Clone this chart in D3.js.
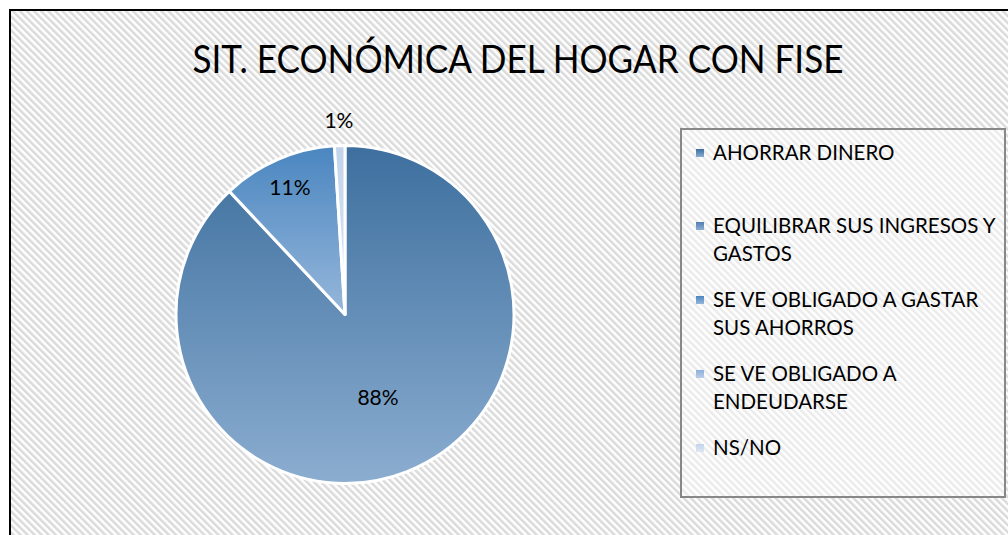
<!DOCTYPE html>
<html>
<head>
<meta charset="utf-8">
<script src="https://cdn.jsdelivr.net/npm/d3@7"></script>
<style>
  html, body { margin: 0; padding: 0; background: #fff; }
  svg { display: block; }
</style>
</head>
<body>
<div id="chart"></div>
<script>
// chart values
const title = "SIT. ECONÓMICA DEL HOGAR CON FISE";
const categories = [
  "AHORRAR DINERO",
  "EQUILIBRAR SUS INGRESOS Y GASTOS",
  "SE VE OBLIGADO A GASTAR SUS AHORROS",
  "SE VE OBLIGADO A ENDEUDARSE",
  "NS/NO"
];
const legendLines = [
  ["AHORRAR DINERO"],
  ["EQUILIBRAR SUS INGRESOS Y", "GASTOS"],
  ["SE VE OBLIGADO A GASTAR", "SUS AHORROS"],
  ["SE VE OBLIGADO A", "ENDEUDARSE"],
  ["NS/NO"]
];
const values = [88, 0, 11, 0, 1];
const colorsTop = ["#3d6f9e", "#4f7eb0", "#4a86c0", "#8cb0da", "#c2d4eb"];
const colorsBottom = ["#8badd0", "#8eafd3", "#96b7da", "#b9cde8", "#dde7f4"];

const width = 1008, height = 535;
const font = "Lato, 'Open Sans', sans-serif";

const svg = d3.select("#chart").append("svg")
  .attr("width", width)
  .attr("height", height);

const defs = svg.append("defs");

// diagonal hatch background
const pat = defs.append("pattern")
  .attr("id", "hatch")
  .attr("patternUnits", "userSpaceOnUse")
  .attr("width", 5)
  .attr("height", 5)
  .attr("patternTransform", "rotate(-45)");
pat.append("rect").attr("width", 5).attr("height", 5).attr("fill", "#fff");
pat.append("rect").attr("width", 2.5).attr("height", 5).attr("fill", "#dadada");

const grads = values.map((v, i) => {
  const g = defs.append("linearGradient")
    .attr("id", "grad" + i)
    .attr("x1", 0).attr("y1", 0).attr("x2", 0).attr("y2", 1);
  g.append("stop").attr("offset", "0%").attr("stop-color", colorsTop[i]);
  g.append("stop").attr("offset", "100%").attr("stop-color", colorsBottom[i]);
  return "url(#grad" + i + ")";
});

// chart area with border
svg.append("rect")
  .attr("x", 10).attr("y", 10)
  .attr("width", width + 20).attr("height", height + 20)
  .attr("fill", "url(#hatch)")
  .attr("stroke", "#000")
  .attr("stroke-width", 2);

// title
svg.append("text")
  .attr("x", 518)
  .attr("y", 73)
  .attr("text-anchor", "middle")
  .attr("textLength", 651)
  .attr("lengthAdjust", "spacingAndGlyphs")
  .style("font-family", font)
  .style("font-size", "38px")
  .attr("fill", "#000")
  .text(title);

// pie
const cx = 345, cy = 314.5, r = 169;
const total = d3.sum(values);

const pie = d3.pie().sort(null).value(d => d);
const arcs = pie(values);
const arc = d3.arc().innerRadius(0).outerRadius(r);

const g = svg.append("g").attr("transform", `translate(${cx},${cy})`);

g.selectAll("path.slice")
  .data(arcs.filter(d => d.value > 0))
  .join("path")
  .attr("class", "slice")
  .attr("d", arc)
  .attr("fill", d => grads[d.index])
  .attr("stroke", "#fff")
  .attr("stroke-width", 3)
  .attr("stroke-linejoin", "round");

function labelRadius(d) {
  const f = d.value / total;
  if (f > 0.5) return r * 0.53;
  if (f > 0.05) return r * 0.82;
  return r * 1.15;
}

g.selectAll("text.lbl")
  .data(arcs.filter(d => d.value > 0))
  .join("text")
  .attr("class", "lbl")
  .attr("transform", d => {
    const lr = labelRadius(d);
    const c = d3.arc().innerRadius(lr).outerRadius(lr).centroid(d);
    return `translate(${c[0]},${c[1]})`;
  })
  .attr("text-anchor", "middle")
  .attr("dy", "0.36em")
  .style("font-family", font)
  .style("font-size", "21px")
  .attr("fill", "#000")
  .text(d => Math.round(d.value / total * 100) + "%");

// legend
const lg = svg.append("g");
lg.append("rect")
  .attr("x", 681).attr("y", 129)
  .attr("width", 324).attr("height", 368)
  .attr("fill", "rgba(255,255,255,0.45)")
  .attr("stroke", "#888")
  .attr("stroke-width", 2);

// rows are not evenly spaced: wrapped entries push later rows down
const rowTops = [153, 226, 300, 374, 448];

categories.forEach((c, i) => {
  const y = rowTops[i];
  lg.append("rect")
    .attr("x", 696).attr("y", y - 4)
    .attr("width", 8).attr("height", 8)
    .attr("fill", grads[i]);
  legendLines[i].forEach((line, j) => {
    lg.append("text")
      .attr("x", 713)
      .attr("y", y + j * 27.5)
      .attr("dy", "0.36em")
      .style("font-family", font)
      .style("font-size", "20.5px")
      .attr("fill", "#000")
      .text(line);
  });
});
</script>
</body>
</html>
